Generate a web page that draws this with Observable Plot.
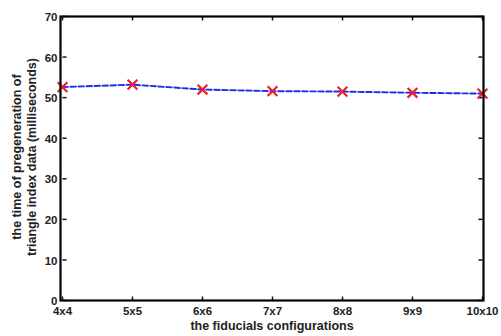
<!DOCTYPE html>
<html><head><meta charset="utf-8">
<script src="https://cdn.jsdelivr.net/npm/d3@7"></script>
<script src="https://cdn.jsdelivr.net/npm/@observablehq/plot@0.6"></script>
<style>
html,body{margin:0;padding:0;background:#fff;}
svg{font-family:"Liberation Sans",Arial,sans-serif;}
</style>
</head><body>
<div id="chart"></div>
<script>
const configs = ["4x4","5x5","6x6","7x7","8x8","9x9","10x10"];
const times = [52.6, 53.2, 52.0, 51.6, 51.5, 51.2, 51.0];
const yTicks = [0,10,20,30,40,50,60,70];
const data = configs.map((c,i)=>({config:c, time:times[i]}));

const tickRight = {draw(ctx){ctx.moveTo(0,0); ctx.lineTo(4,0);}};
const tickLeft = {draw(ctx){ctx.moveTo(0,0); ctx.lineTo(-4,0);}};
const tickUp = {draw(ctx){ctx.moveTo(0,0); ctx.lineTo(0,-4);}};
const tickDown = {draw(ctx){ctx.moveTo(0,0); ctx.lineTo(0,4);}};

const chart = Plot.plot({
  width: 501, height: 336,
  marginLeft: 60, marginRight: 18, marginTop: 16, marginBottom: 36,
  style: {fontFamily: '"Liberation Sans",Arial,sans-serif', fontWeight: "bold", background: "#fff"},
  x: {type: "point", domain: configs, padding: 0, label: null},
  y: {domain: [0,70], ticks: yTicks, label: null},
  marks: [
    Plot.dot(configs, {x: d => d, y: () => 0, symbol: tickUp, stroke: "#111", strokeWidth: 1.5}),
    Plot.dot(configs, {x: d => d, y: () => 70, symbol: tickDown, stroke: "#111", strokeWidth: 1.5}),
    Plot.dot(yTicks, {x: () => configs[0], y: d => d, symbol: tickRight, stroke: "#111", strokeWidth: 1.5}),
    Plot.dot(yTicks, {x: () => configs[configs.length-1], y: d => d, symbol: tickLeft, stroke: "#111", strokeWidth: 1.5}),
    Plot.axisX({ticks: configs, tickSize: 0, tickPadding: 6, fontSize: 11.5, fontWeight: "bold", fill: "#222", label: null}),
    Plot.axisY({ticks: yTicks, tickSize: 0, tickPadding: 3, dy: 1, fontSize: 11.5, fontWeight: "bold", fill: "#222", label: null}),
    Plot.line(data, {x: "config", y: "time", stroke: "#1f2fe0", strokeWidth: 1.9, strokeDasharray: "5.5,2.5"}),
    Plot.dot(data, {x: "config", y: "time", symbol: "times", r: 4.5, stroke: "#e8202a", strokeWidth: 2.2}),
    Plot.frame({stroke: "#000", strokeWidth: 2.2})
  ]
});
document.getElementById("chart").appendChild(chart);

const svg = d3.select(chart);
svg.append("text").attr("x", 272).attr("y", 330).attr("text-anchor","middle")
  .attr("font-size", 12.5).attr("font-weight","bold").attr("fill","#222")
  .text("the fiducials configurations");
const g = svg.append("g").attr("transform","translate(21,157) rotate(-90)");
g.append("text").attr("x",0).attr("y",0).attr("text-anchor","middle")
  .attr("font-size", 12.5).attr("font-weight","bold").attr("fill","#222")
  .text("the time of pregeneration of");
g.append("text").attr("x",0).attr("y",14.5).attr("text-anchor","middle")
  .attr("font-size", 12.5).attr("font-weight","bold").attr("fill","#222")
  .text("triangle index data (milliseconds)");
</script>
</body></html>
